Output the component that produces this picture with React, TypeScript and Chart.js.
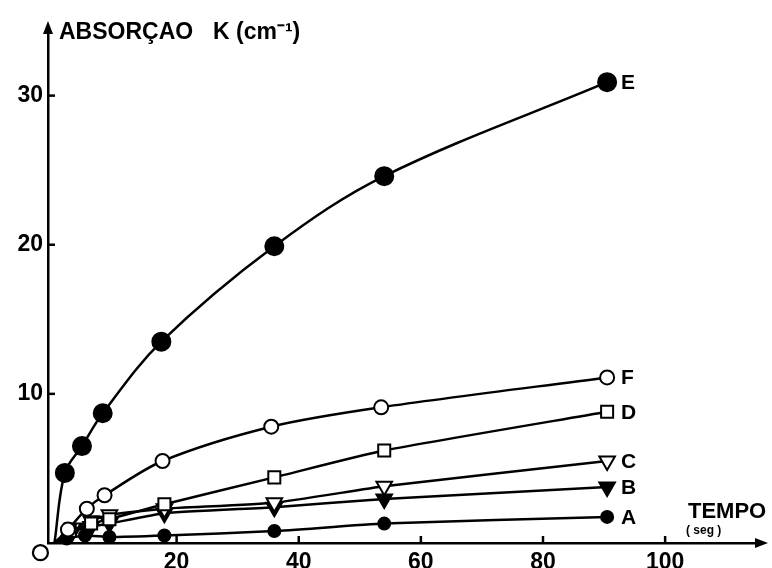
import React, { useEffect, useRef } from "react";
import { Chart, registerables } from "chart.js";

Chart.register(...registerables);

// ---- data (time in s, absorption K in cm^-1) ----
const timeE = [0, 1.7, 4.5, 7.9, 17.5, 36, 54, 90.5];
const valuesE = [0, 4.7, 6.5, 8.7, 13.5, 19.9, 24.6, 30.9];

const timeF = [0, 2.2, 5.3, 8.2, 17.7, 35.5, 53.5, 90.5];
const valuesF = [0, 0.9, 2.3, 3.2, 5.5, 7.8, 9.1, 11.1];

const timeD = [0, 2.5, 6, 9, 18, 36, 54, 90.5];
const valuesD = [0, 0.8, 1.3, 1.6, 2.6, 4.4, 6.2, 8.8];

const timeC = [0, 3, 6, 9, 18, 36, 54, 90.5];
const valuesC = [0, 1.0, 1.5, 1.9, 2.3, 2.7, 3.8, 5.5];

const timeB = [0, 3, 6, 9, 18, 36, 54, 90.5];
const valuesB = [0, 0.8, 1.1, 1.3, 2.0, 2.4, 2.95, 3.75];

const timeA = [0, 2, 5, 9, 18, 36, 54, 90.5];
const valuesA = [0, 0.3, 0.5, 0.4, 0.5, 0.8, 1.3, 1.75];

const originX = [-2.3];
const originY = [-0.65];

const seriesNames = ["E", "F", "D", "C", "B", "A"];
const xTickValues = [20, 40, 60, 80, 100];
const yTickValues = [10, 20, 30];

const yTitle = "ABSORÇAO";
const yUnit = "K (cm⁻¹)";
const xTitle = "TEMPO";
const xUnit = "( seg )";

const FONT = "'Liberation Sans', Arial, sans-serif";

function pts(xs: number[], ys: number[]) {
  return xs.map((x, i) => ({ x, y: ys[i] }));
}

function radii(n: number, r: number) {
  return Array.from({ length: n }, (_, i) => (i === 0 ? 0 : r));
}

const overlay = {
  id: "overlay",
  afterDraw(chart: any) {
    const { ctx, chartArea, scales } = chart;
    const xs = scales.x;
    const ys = scales.y;
    ctx.save();
    ctx.fillStyle = "#000";
    ctx.strokeStyle = "#000";
    ctx.lineWidth = 2.5;

    // tick marks
    yTickValues.forEach((v) => {
      const py = ys.getPixelForValue(v);
      ctx.beginPath();
      ctx.moveTo(chartArea.left, py);
      ctx.lineTo(chartArea.left + 7, py);
      ctx.stroke();
    });
    xTickValues.forEach((v) => {
      const px = xs.getPixelForValue(v);
      ctx.beginPath();
      ctx.moveTo(px, chartArea.bottom);
      ctx.lineTo(px, chartArea.bottom - 7);
      ctx.stroke();
    });

    // arrows
    const ax = chartArea.left;
    const ay = chartArea.top;
    ctx.beginPath();
    ctx.moveTo(ax, ay - 9);
    ctx.lineTo(ax - 5, ay + 4);
    ctx.lineTo(ax + 5, ay + 4);
    ctx.closePath();
    ctx.fill();
    const bx = chartArea.right;
    const by = chartArea.bottom;
    ctx.beginPath();
    ctx.moveTo(bx + 7, by);
    ctx.lineTo(bx - 6, by - 5);
    ctx.lineTo(bx - 6, by + 5);
    ctx.closePath();
    ctx.fill();

    // origin marker
    const ox = xs.getPixelForValue(originX[0]);
    const oy = ys.getPixelForValue(originY[0]);
    ctx.beginPath();
    ctx.arc(ox, oy, 7.5, 0, Math.PI * 2);
    ctx.fillStyle = "#fff";
    ctx.fill();
    ctx.lineWidth = 2.2;
    ctx.stroke();
    ctx.fillStyle = "#000";

    // axis titles
    ctx.font = `bold 23px ${FONT}`;
    ctx.textAlign = "left";
    ctx.textBaseline = "middle";
    ctx.fillText(yTitle, chartArea.left + 11, chartArea.top + 3);
    ctx.fillText(yUnit, chartArea.left + 165, chartArea.top + 3);

    ctx.textAlign = "left";
    ctx.font = `bold 22px ${FONT}`;
    ctx.fillText(xTitle, 688, chartArea.bottom - 31);
    ctx.font = `bold 12px ${FONT}`;
    ctx.fillText(xUnit, 686, chartArea.bottom - 12);

    // series letters
    ctx.font = `bold 21px ${FONT}`;
    ctx.textAlign = "left";
    chart.data.datasets.forEach((ds: any, i: number) => {
      if (i >= seriesNames.length) return;
      const last = ds.data[ds.data.length - 1];
      const px = xs.getPixelForValue(last.x);
      const py = ys.getPixelForValue(last.y);
      ctx.fillText(seriesNames[i], px + 14, py + 1);
    });
    ctx.restore();
  },
};

export default function App() {
  const ref = useRef<HTMLCanvasElement | null>(null);

  useEffect(() => {
    if (!ref.current) return;
    const black = "#000";
    const white = "#fff";
    const common = {
      borderColor: black,
      borderWidth: 2.5,
      pointBorderColor: black,
      pointBorderWidth: 2,
      clip: false as any,
    };
    const chart = new Chart(ref.current, {
      type: "line",
      data: {
        datasets: [
          {
            ...common,
            label: "E",
            data: pts(timeE, valuesE),
            tension: 0.35,
            pointStyle: "circle",
            pointRadius: radii(timeE.length, 9),
            pointBackgroundColor: black,
          },
          {
            ...common,
            label: "F",
            data: pts(timeF, valuesF),
            tension: 0.3,
            pointStyle: "circle",
            pointRadius: radii(timeF.length, 7),
            pointBackgroundColor: white,
          },
          {
            ...common,
            label: "D",
            data: pts(timeD, valuesD),
            tension: 0.2,
            pointStyle: "rect",
            pointRadius: radii(timeD.length, 8.5),
            pointBackgroundColor: white,
          },
          {
            ...common,
            label: "C",
            data: pts(timeC, valuesC),
            tension: 0.15,
            pointStyle: "triangle",
            rotation: 180,
            pointRadius: radii(timeC.length, 9),
            pointBackgroundColor: white,
          },
          {
            ...common,
            label: "B",
            data: pts(timeB, valuesB),
            tension: 0.15,
            pointStyle: "triangle",
            rotation: 180,
            pointRadius: radii(timeB.length, 9),
            pointBackgroundColor: black,
          },
          {
            ...common,
            label: "A",
            data: pts(timeA, valuesA),
            tension: 0.15,
            pointStyle: "circle",
            pointRadius: radii(timeA.length, 6),
            pointBackgroundColor: black,
          },
        ],
      },
      options: {
        animation: false,
        responsive: false,
        maintainAspectRatio: false,
        layout: { padding: { top: 30, right: 7, left: 0, bottom: 0 } },
        plugins: {
          legend: { display: false },
          tooltip: { enabled: false },
          title: { display: false },
        },
        scales: {
          x: {
            type: "linear",
            min: -1.06,
            max: 115.7,
            grid: { display: false, drawTicks: false },
            border: { display: true, color: black, width: 2.5 },
            afterBuildTicks: (s: any) => {
              s.ticks = xTickValues.map((v) => ({ value: v }));
            },
            afterFit: (s: any) => {
              s.height = 25;
            },
            ticks: {
              color: black,
              padding: 6,
              maxRotation: 0,
              font: { family: FONT, size: 23, weight: "bold" },
            },
          },
          y: {
            type: "linear",
            min: 0,
            max: 34.4,
            grid: { display: false, drawTicks: false },
            border: { display: true, color: black, width: 2.5 },
            afterBuildTicks: (s: any) => {
              s.ticks = yTickValues.map((v) => ({ value: v }));
            },
            afterFit: (s: any) => {
              s.width = 48;
            },
            ticks: {
              color: black,
              padding: 5,
              font: { family: FONT, size: 23, weight: "bold" },
            },
          },
        },
      },
      plugins: [overlay],
    } as any);
    return () => chart.destroy();
  }, []);

  return (
    <div style={{ position: "fixed", left: 0, top: 0, width: 772, height: 568, background: "#fff" }}>
      <canvas ref={ref} width={772} height={568} style={{ width: 772, height: 568 }} />
    </div>
  );
}
